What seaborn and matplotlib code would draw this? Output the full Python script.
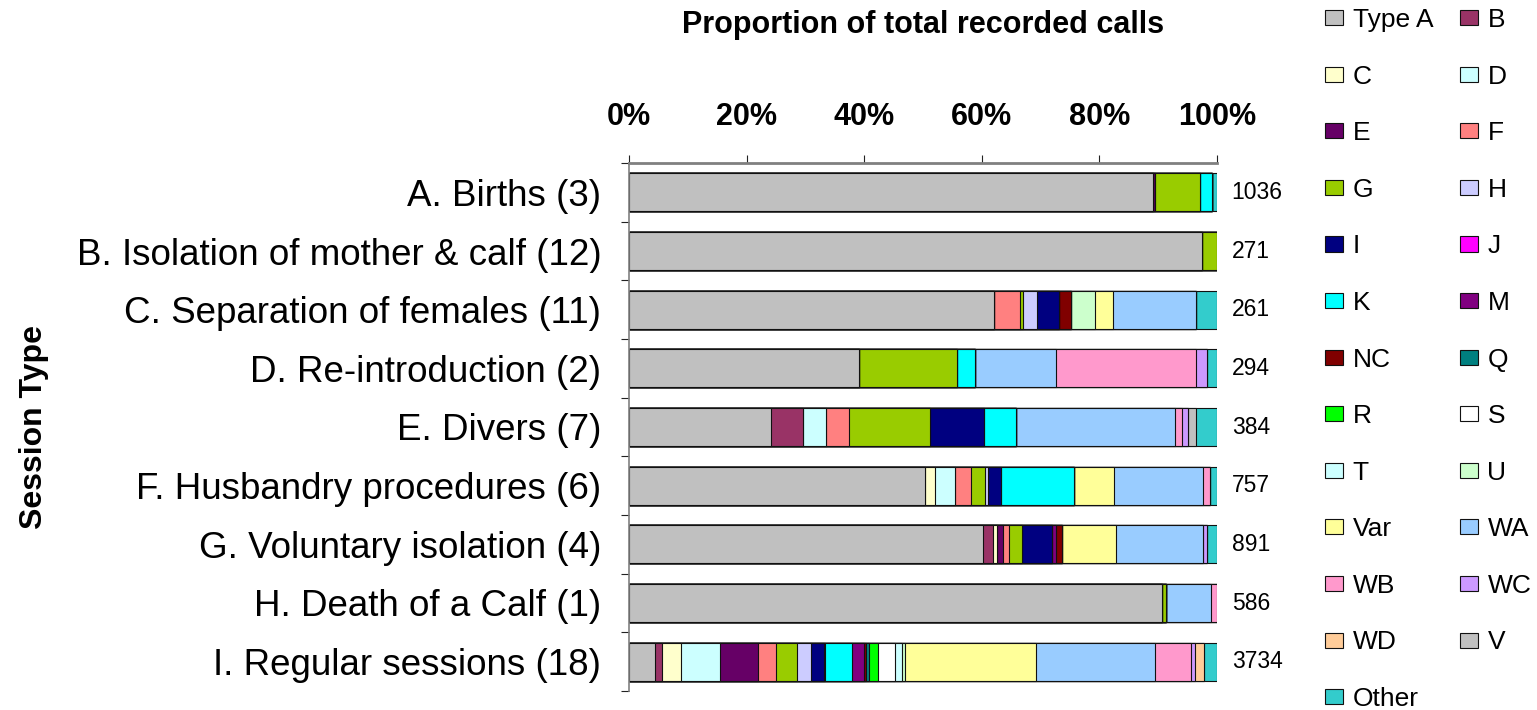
import numpy as np
import pandas as pd
import matplotlib
matplotlib.use("Agg")
import matplotlib.pyplot as plt
import seaborn as sns
from matplotlib.patches import Patch

# ---------------- data ----------------
sessions = [
    "A. Births (3)",
    "B. Isolation of mother & calf (12)",
    "C. Separation of females (11)",
    "D. Re-introduction (2)",
    "E. Divers (7)",
    "F. Husbandry procedures (6)",
    "G. Voluntary isolation (4)",
    "H. Death of a Calf (1)",
    "I. Regular sessions (18)",
]
totals = [1036, 271, 261, 294, 384, 757, 891, 586, 3734]

call_types = ["Type A", "B", "C", "D", "E", "F", "G", "H", "I", "J", "K", "M",
              "NC", "Q", "R", "S", "T", "U", "Var", "WA", "WB", "WC", "WD", "V", "Other"]
colours = ["#C0C0C0", "#993366", "#FFFFCC", "#CCFFFF", "#660066", "#FF8080",
           "#99CC00", "#CCCCFF", "#000080", "#FF00FF", "#00FFFF", "#800080",
           "#800000", "#008080", "#00FF00", "#FFFFFF", "#CCFFFF", "#CCFFCC",
           "#FFFF99", "#99CCFF", "#FF99CC", "#CC99FF", "#FFCC99", "#C0C0C0", "#33CCCC"]

# percentage of calls per session (A..I)
type_a = [89.2, 97.4, 62.1, 39.0, 24.2, 50.4, 60.1, 90.7, 4.5]
b      = [0, 0, 0, 0, 5.4, 0, 1.7, 0, 1.1]
c      = [0, 0, 0, 0, 0, 1.6, 0.7, 0, 3.3]
d      = [0, 0, 0, 0, 4.0, 3.5, 0, 0, 6.6]
e      = [0.3, 0, 0, 0, 0, 0, 1.0, 0, 6.5]
f      = [0, 0, 4.5, 0, 3.9, 2.7, 1.1, 0, 3.0]
g      = [7.6, 2.6, 0.5, 16.8, 13.8, 2.35, 2.15, 0.7, 3.5]
h      = [0, 0, 2.35, 0, 0, 0.6, 0, 0, 2.5]
i_     = [0, 0, 3.8, 0, 9.1, 2.1, 5.2, 0, 2.1]
j      = [0, 0, 0, 0, 0, 0, 0, 0, 0.3]
k      = [2.0, 0, 0, 3.0, 5.4, 12.4, 0, 0, 4.5]
m      = [0, 0, 0, 0, 0, 0, 0.7, 0, 2.1]
nc     = [0, 0, 1.9, 0, 0, 0, 0.9, 0, 0.3]
q      = [0, 0, 0, 0, 0, 0, 0, 0, 0.5]
r      = [0, 0, 0, 0, 0, 0, 0, 0, 1.5]
s      = [0, 0, 0, 0, 0, 0, 0, 0, 2.9]
t      = [0, 0, 0, 0, 0, 0, 0, 0, 1.2]
u      = [0, 0, 4.2, 0, 0, 0, 0, 0, 0.5]
var    = [0, 0, 3.0, 0, 0, 6.9, 9.2, 0, 22.3]
wa     = [0, 0, 14.2, 13.7, 27.2, 15.1, 14.8, 7.5, 20.2]
wb     = [0, 0, 0, 23.8, 1.2, 1.2, 0, 1.1, 6.1]
wc     = [0, 0, 0, 1.9, 1.0, 0, 0.7, 0, 0.8]
wd     = [0, 0, 0, 0, 0, 0, 0, 0, 1.5]
v      = [0, 0, 0, 0, 1.4, 0, 0, 0, 0]
other  = [0.9, 0, 3.5, 1.7, 3.5, 1.2, 1.7, 0, 2.2]
series = [type_a, b, c, d, e, f, g, h, i_, j, k, m, nc, q, r, s, t, u,
          var, wa, wb, wc, wd, v, other]

tick_labels = ["0%", "20%", "40%", "60%", "80%", "100%"]

# ---------------- style ----------------
sns.set_theme(style="white")
plt.rcParams["font.family"] = ["Liberation Sans", "DejaVu Sans"]
plt.rcParams["text.color"] = "black"
plt.rcParams["axes.labelcolor"] = "black"
plt.rcParams["xtick.color"] = "black"
plt.rcParams["ytick.color"] = "black"

rows = []
for ct, vals in zip(call_types, series):
    for sess, val in zip(sessions, vals):
        rows.append({"session": sess, "call_type": ct, "pct": val})
df = pd.DataFrame(rows)
df["call_type"] = pd.Categorical(df["call_type"], call_types, ordered=True)
df["session"] = pd.Categorical(df["session"], sessions, ordered=True)
df = df.sort_values(["session", "call_type"]).reset_index(drop=True)
df["share"] = df["pct"] / df.groupby("session", observed=True)["pct"].transform("sum") * 100
df["cum"] = df.groupby("session", observed=True)["share"].cumsum()
df["session"] = df["session"].astype(str)

W, H = 1537, 710
fig = plt.figure(figsize=(W / 100, H / 100), dpi=100)
ax = fig.add_axes([629 / W, 1 - 691 / H, 588 / W, (691 - 163) / H])

for ct, col in reversed(list(zip(call_types, colours))):
    sub = df[df["call_type"] == ct]
    sns.barplot(data=sub, x="cum", y="session", order=sessions, orient="h",
                color=col, saturation=1, width=0.65, edgecolor="#111111",
                linewidth=0.8, errorbar=None, ax=ax)

ax.set_xlim(0, 100)
ax.set_ylim(len(sessions) - 0.5, -0.5)
ax.xaxis.tick_top()
ax.set_xticks(np.arange(0, 101, 20))
ax.set_xticklabels(tick_labels, fontweight="bold")
ax.tick_params(axis="x", which="major", top=True, bottom=False, direction="out",
               length=6, width=0.8, color="#222222", labelsize=22, pad=16,
               labelcolor="black")

ax.set_yticks(np.arange(len(sessions)))
ax.set_yticklabels(sessions)
ax.set_yticks(np.arange(-0.5, len(sessions), 1), minor=True)
ax.tick_params(axis="y", which="major", left=False, length=0, labelsize=26.5, pad=20,
               labelcolor="black")
ax.tick_params(axis="y", which="minor", left=True, direction="out", length=6,
               width=0.8, color="#222222")

ax.xaxis.set_label_position("top")
ax.set_xlabel("Proportion of total recorded calls", fontsize=22, fontweight="bold",
              labelpad=50, color="black")
ax.set_ylabel("Session Type", fontsize=23, fontweight="bold", labelpad=20,
              color="black")

for side in ["right", "bottom"]:
    ax.spines[side].set_visible(False)
ax.spines["top"].set_color("#808080")
ax.spines["top"].set_linewidth(2)
ax.spines["left"].set_color("#808080")
ax.spines["left"].set_linewidth(1.2)

for idx, n in enumerate(totals):
    ax.text(102.5, idx, f"{n}", va="center", ha="left", fontsize=16.5,
            color="black", clip_on=False)

handles = [Patch(facecolor=col, edgecolor="#111111", linewidth=0.8) for col in colours]
order = list(range(0, len(call_types), 2)) + list(range(1, len(call_types), 2))
fig.legend([handles[o] for o in order], [call_types[o] for o in order],
           loc="upper left", bbox_to_anchor=(1325 / W, 1 - 8 / H), ncol=2,
           frameon=False, fontsize=19, handlelength=0.7, handleheight=0.5,
           handletextpad=0.35, columnspacing=1.0, labelspacing=1.235,
           borderpad=0, borderaxespad=0)

fig.savefig("out.png", dpi=100)
